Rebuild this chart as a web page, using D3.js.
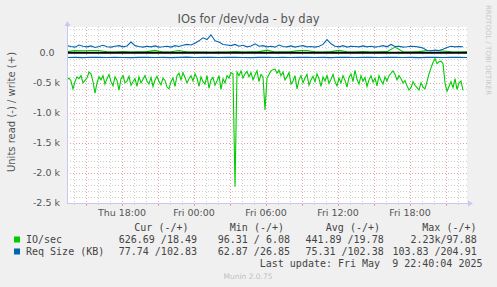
<!DOCTYPE html>
<html><head><meta charset="utf-8">
<script src="https://cdn.jsdelivr.net/npm/d3@7"></script>
<style>body{margin:0;background:#f0f0f0;} svg{display:block;} text{white-space:pre;}</style>
</head><body><svg id="c" width="497" height="287"></svg>
<script>
// ---- data ----
const startTime = Date.UTC(2025, 4, 8, 13, 25);   // Thu 13:25
const endTime   = Date.UTC(2025, 4, 9, 22, 45);   // Fri 22:45
const yTickValues = [0, -500, -1000, -1500, -2000, -2500];
const yTickLabels = ["0.0", "-0.5 k", "-1.0 k", "-1.5 k", "-2.0 k", "-2.5 k"];

// IO/sec read (plotted negative), one value every 10 minutes
const ioReadStep = 10;
const ioRead = [
 450,420,470,600,480,400,430,380,500,460,420,320,350,480,670,500,400,
 450,380,520,430,360,480,550,400,460,620,430,380,500,470,390,540,480,
 430,560,400,500,440,380,470,520,410,560,450,390,480,530,420,460,570,
 600,480,420,560,380,340,450,330,410,500,430,380,470,350,420,560,400,
 480,520,380,590,450,410,540,470,380,610,430,500,380,420,330,350,2230,
 320,380,300,420,350,310,400,330,450,370,300,480,360,400,950,420,360,
 300,280,270,340,290,380,320,450,400,330,520,470,380,600,450,380,500,
 420,360,540,450,390,480,350,430,560,400,470,380,510,440,360,480,550,
 420,500,380,460,570,410,350,480,290,440,520,380,470,410,560,450,380,
 490,420,550,380,460,520,400,470,380,340,300,360,450,380,430,500,460,
 550,620,580,480,540,580,620,500,570,600,480,350,250,160,96,180,150,
 140,180,500,640,560,480,580,430,610,500,470,627
];
// IO/sec write (plotted positive), one value every 40 minutes
const ioWriteStep = 40;
const ioWrite = [
 20,40,35,40,38,18,15,20,15,18,20,40,15,18,38,15,12,15,10,12,15,20,15,18,20,
 45,15,18,20,38,40,18,15,20,40,18,15,20,15,18,20,95,18,15,20,38,40,30,18,15,18
];
// Req Size (KB) read (plotted negative), one value every 40 minutes
const rqReadStep = 40;
const rqRead = [
 77,75,79,73,76,78,74,77,80,75,73,77,76,79,75,72,77,74,76,78,75,73,77,79,76,
 74,77,75,78,73,76,77,75,79,74,76,77,73,75,78,76,74,77,75,79,76,73,77,75,76,78
];
// Req Size (KB) write (plotted positive), one value every 20 minutes
const rqWriteStep = 20;
const rqWrite = [
 120,105,95,130,110,100,115,90,105,125,100,95,110,120,100,115,180,120,105,95,110,100,115,95,
 100,110,95,120,105,125,140,130,160,200,250,220,300,200,180,140,130,120,140,110,125,100,115,150,110,
 120,100,110,95,130,105,100,115,95,110,120,100,105,95,110,140,220,150,110,100,120,95,110,105,100,
 115,100,110,95,105,120,100,140,105,110,95,100,110,105,95,80,40,35,45,40,60,90,110,100,105,102
];

const legendHeaders = ["Cur (-/+)", "Min (-/+)", "Avg (-/+)", "Max (-/+)"];
const ioStats = ["626.69 /18.49", "96.31 / 6.08", "441.89 /19.78", "2.23k/97.88"];
const rqStats = ["77.74 /102.83", "62.87 /26.85", "75.31 /102.38", "103.83 /204.91"];
const seriesNames = ["IO/sec", "Req Size (KB)"];
const seriesColors = ["#00cc00", "#0066b3"];

// ---- drawing ----
const svg = d3.select("#c");
svg.append("rect").attr("width",497).attr("height",287).attr("fill","#f0f0f0");
const L = 67, R = 467, T = 27, B = 203;
const x = d3.scaleUtc().domain([startTime, endTime]).range([L, R]);
const y = d3.scaleLinear().domain([-2500, 430]).range([B, T]);

svg.append("rect").attr("x",L).attr("y",T).attr("width",R-L).attr("height",B-T).attr("fill","#ffffff");

const grid = svg.append("g");
d3.range(-2500, 431, 100).forEach(v => {
  if (v === 0) return;
  const major = v % 500 === 0;
  grid.append("line").attr("x1",L).attr("x2",R).attr("y1",Math.round(y(v))+0.5).attr("y2",Math.round(y(v))+0.5)
    .attr("stroke", major ? "#e8a0a0" : "#cfcfcf").attr("stroke-dasharray","1,2");
});
const hours = d3.utcHour.range(new Date(startTime), new Date(endTime));
hours.forEach(h => {
  const major = h.getUTCHours() % 3 === 0;
  const xx = Math.round(x(h)) + 0.5;
  grid.append("line").attr("x1",xx).attr("x2",xx).attr("y1",T).attr("y2",B)
    .attr("stroke", major ? "#e8a0a0" : "#cfcfcf").attr("stroke-dasharray","1,2");
  grid.append("line").attr("x1",xx).attr("x2",xx).attr("y1",B).attr("y2",B+(major?3:2))
    .attr("stroke", major ? "#e8a0a0" : "#cfcfcf");
});

function mk(arr, step, sign) {
  return arr.map((v,i) => [startTime + i*step*60000, sign*v]);
}
const line = d3.line().x(d => x(d[0])).y(d => y(d[1]));
const plot = svg.append("g");
plot.append("path").datum(mk(ioRead, ioReadStep, -1)).attr("d", line).attr("fill","none").attr("stroke",seriesColors[0]).attr("stroke-width",1.1);
plot.append("path").datum(mk(ioWrite, ioWriteStep, 1)).attr("d", line).attr("fill","none").attr("stroke",seriesColors[0]).attr("stroke-width",1.1);
plot.append("path").datum(mk(rqRead, rqReadStep, -1)).attr("d", line).attr("fill","none").attr("stroke",seriesColors[1]).attr("stroke-width",1.1);
plot.append("path").datum(mk(rqWrite, rqWriteStep, 1)).attr("d", line).attr("fill","none").attr("stroke",seriesColors[1]).attr("stroke-width",1.1);
svg.append("line").attr("x1",L).attr("x2",R).attr("y1",y(0)).attr("y2",y(0)).attr("stroke","#000").attr("stroke-width",2);

const axc = "#c8c8ee";
svg.append("line").attr("x1",L+0.5).attr("x2",L+0.5).attr("y1",B).attr("y2",T-3).attr("stroke",axc);
svg.append("line").attr("x1",L).attr("x2",R+3).attr("y1",B+0.5).attr("y2",B+0.5).attr("stroke",axc);
svg.append("path").attr("d",`M${L-2.5},${T-1} L${L+3.5},${T-1} L${L+0.5},${T-6} Z`).attr("fill",axc);
svg.append("path").attr("d",`M${R+1},${B-2.5} L${R+1},${B+3.5} L${R+6},${B+0.5} Z`).attr("fill",axc);

const axisFont = "DejaVu Sans";
yTickValues.forEach((v,i) => {
  svg.append("text").attr("x", v === 0 ? 54.5 : 60).attr("y", y(v)).attr("dy","0.35em")
    .attr("text-anchor","end").attr("font-family",axisFont).attr("font-size","9.5px").attr("fill","#555")
    .text(yTickLabels[i]);
});
const fmt = d3.utcFormat("%a %H:%M");
hours.filter(h => h.getUTCHours() % 6 === 0).forEach(h => {
  svg.append("text").attr("x", x(h)).attr("y", 216).attr("text-anchor","middle")
    .attr("font-family",axisFont).attr("font-size","9.5px").attr("fill","#555").text(fmt(h));
});

svg.append("text").attr("x",248.5).attr("y",23).attr("text-anchor","middle").attr("font-family",axisFont)
  .attr("font-size","11.5px").attr("fill","#555").text("IOs for /dev/vda - by day");
svg.append("text").attr("transform","translate(15,112) rotate(-90)").attr("text-anchor","middle")
  .attr("font-family",axisFont).attr("font-size","10px").attr("fill","#555").text("Units read (-) / write (+)");
svg.append("text").attr("transform","translate(486,5) rotate(90)").attr("text-anchor","start")
  .attr("font-family",axisFont).attr("font-size","7px").attr("fill","#c8c8c8").text("RRDTOOL / TOBI OETIKER");

const mono = "DejaVu Sans Mono";
const lg = svg.append("g").attr("font-family",mono).attr("font-size","10px").attr("fill","#444");
const headerEnds = [188.5, 284, 380, 476.5];
legendHeaders.forEach((h,i) => lg.append("text").attr("x",headerEnds[i]).attr("y",231).attr("text-anchor","end").text(h));
const colEnds = [197, 290, 383.7, 476.7];
[ioStats, rqStats].forEach((row, r) => {
  const yy = 243 + r*12;
  svg.append("rect").attr("x",14).attr("y",yy-6.5).attr("width",6).attr("height",6).attr("fill",seriesColors[r]);
  lg.append("text").attr("x",26).attr("y",yy).text(seriesNames[r]);
  row.forEach((s,i) => lg.append("text").attr("x",colEnds[i]).attr("y",yy).attr("text-anchor","end").text(s));
});
lg.append("text").attr("x",482.5).attr("y",267).attr("text-anchor","end").text("Last update: Fri May  9 22:40:04 2025");
svg.append("text").attr("x",248).attr("y",279).attr("text-anchor","middle").attr("font-family",axisFont)
  .attr("font-size","7.5px").attr("fill","#c0c0c0").text("Munin 2.0.75");
</script></body></html>
